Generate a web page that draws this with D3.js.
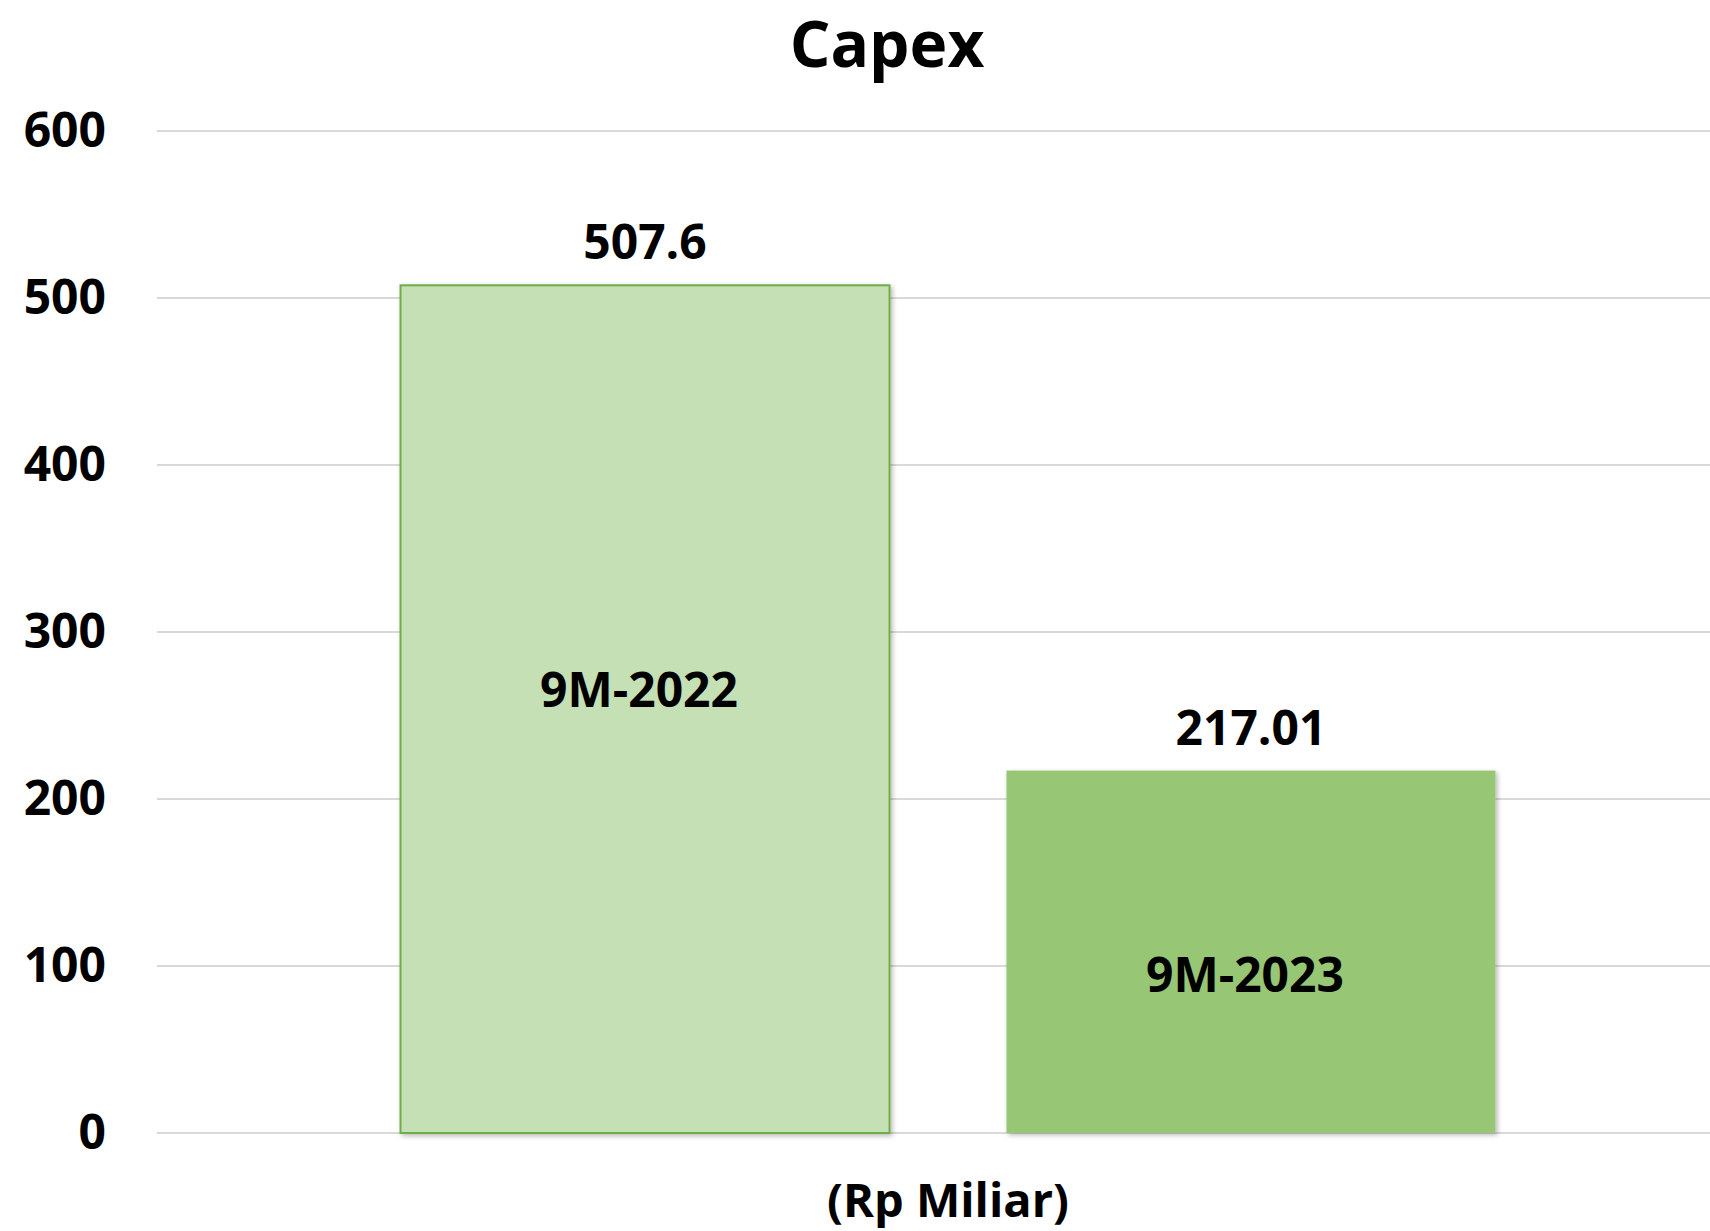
<!DOCTYPE html>
<html>
<head>
<meta charset="utf-8">
<script src="https://cdn.jsdelivr.net/npm/d3@7"></script>
<style>
  html, body { margin: 0; padding: 0; background: #fff; }
  svg text { font-family: "Open Sans", "DejaVu Sans", sans-serif; font-weight: 700; fill: #000; }
</style>
</head>
<body>
<svg id="chart" width="1710" height="1231"></svg>
<script>
// data
const categories = ["(Rp Miliar)"];
const seriesNames = ["9M-2022", "9M-2023"];
const values = [507.6, 217.01];
const valueLabels = ["507.6", "217.01"];
const tickValues = [0, 100, 200, 300, 400, 500, 600];
const barColors = ["#C5E0B4", "#97C675"];
const barStrokes = ["#70AD47", "none"];

const svg = d3.select("#chart");

// shadow like excel
const defs = svg.append("defs");
defs.append("filter")
    .attr("id", "shadow")
    .attr("x", "-5%").attr("y", "-5%")
    .attr("width", "115%").attr("height", "115%")
  .append("feDropShadow")
    .attr("dx", 2).attr("dy", 2)
    .attr("stdDeviation", 2.5)
    .attr("flood-color", "#000")
    .attr("flood-opacity", 0.28);

const plotLeft = 157, plotRight = 1710;
const y = d3.scaleLinear().domain([0, 600]).range([1133, 131]);

// category band (plot area runs past the right edge of the picture)
const x0 = d3.scaleBand().domain(categories).range([157, 1739])
    .paddingInner(0).paddingOuter(0.2224);
const x1 = d3.scaleBand().domain(seriesNames).range([0, x0.bandwidth()])
    .paddingInner(0.193).paddingOuter(0);

// gridlines
svg.append("g").selectAll("line")
  .data(tickValues)
  .join("line")
    .attr("x1", plotLeft).attr("x2", plotRight)
    .attr("y1", d => y(d)).attr("y2", d => y(d))
    .attr("stroke", "#D9D9D9")
    .attr("stroke-width", 2);

// y axis labels
const yAxis = svg.append("g")
    .attr("transform", "translate(106,0)")
    .call(d3.axisLeft(y).tickValues(tickValues).tickSize(0).tickPadding(0));
yAxis.select(".domain").remove();
yAxis.selectAll("text")
    .style("font-size", "48px")
    .attr("dy", "0.35em")
    .attr("y", -1);

// bars
const bars = seriesNames.map((s, i) => ({ name: s, value: values[i], label: valueLabels[i], i: i }));
const gx = x0(categories[0]);

svg.append("g").selectAll("rect")
  .data(bars)
  .join("rect")
    .attr("x", d => gx + x1(d.name))
    .attr("y", d => y(d.value))
    .attr("width", x1.bandwidth())
    .attr("height", d => y(0) - y(d.value))
    .attr("fill", d => barColors[d.i])
    .attr("stroke", d => barStrokes[d.i])
    .attr("stroke-width", 2)
    .attr("filter", "url(#shadow)");

// value labels above bars
svg.append("g").selectAll("text")
  .data(bars)
  .join("text")
    .attr("x", d => gx + x1(d.name) + x1.bandwidth() / 2)
    .attr("y", d => y(d.value) - 26)
    .attr("text-anchor", "middle")
    .style("font-size", "48px")
    .text(d => d.label);

// series names inside bars (excel put them a bit off the middle)
const nameShift = [-19, 23];
svg.append("g").selectAll("text")
  .data(bars)
  .join("text")
    .attr("x", d => gx + x1(d.name) + x1.bandwidth() / 2 - 6)
    .attr("y", d => y(d.value / 2) + nameShift[d.i])
    .attr("dy", "0.35em")
    .attr("text-anchor", "middle")
    .style("font-size", "48px")
    .text(d => d.name);

// category label
svg.append("text")
    .attr("x", gx + x0.bandwidth() / 2)
    .attr("y", 1217)
    .attr("text-anchor", "middle")
    .style("font-size", "47px")
    .text(categories[0]);

// title
svg.append("text")
    .attr("x", 887)
    .attr("y", 67)
    .attr("text-anchor", "middle")
    .style("font-size", "64px")
    .text("Capex");
</script>
</body>
</html>
